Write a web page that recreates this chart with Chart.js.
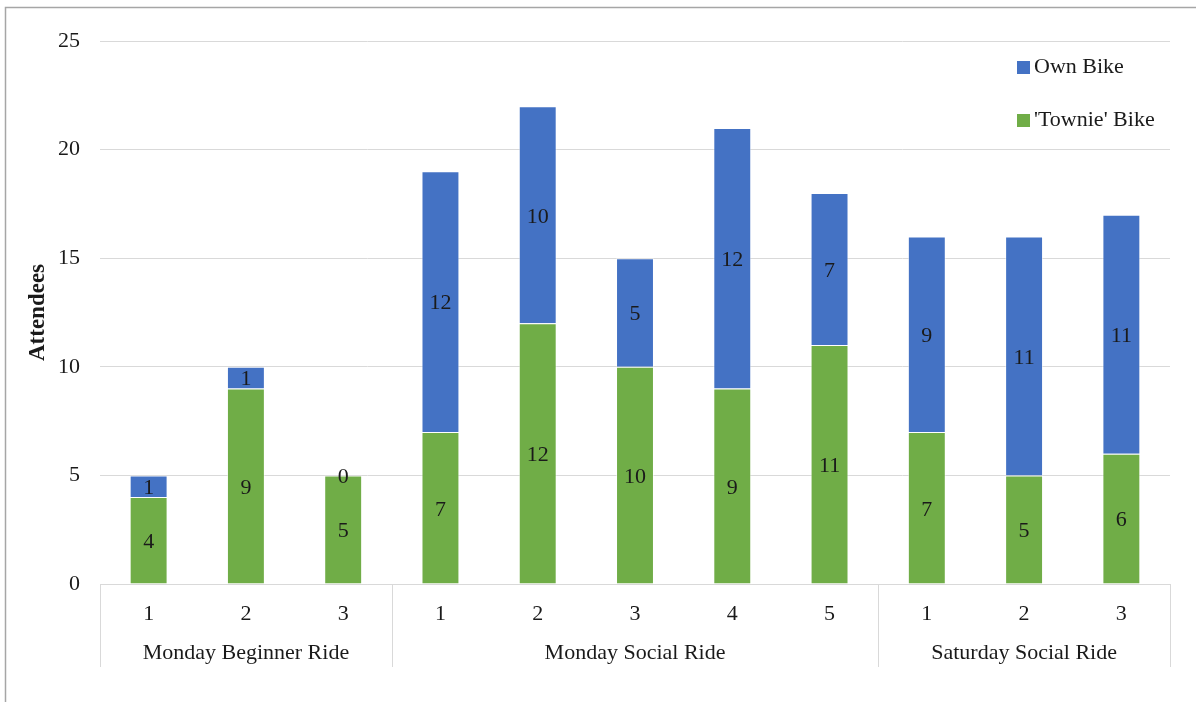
<!DOCTYPE html>
<html>
<head>
<meta charset="utf-8">
<script src="https://cdn.jsdelivr.net/npm/chart.js@4.4.1/dist/chart.umd.min.js"></script>
<style>
  html, body { margin: 0; padding: 0; background: #fff; }
  #wrap { width: 1196px; height: 702px; position: relative; }
</style>
</head>
<body>
<div id="wrap"><canvas id="rides"></canvas></div>
<script>
// ride numbers inside each ride series
const rideLabels = ['1', '2', '3', '1', '2', '3', '4', '5', '1', '2', '3'];
// ride series and how many rides each one covers
const groupNames = ['Monday Beginner Ride', 'Monday Social Ride', 'Saturday Social Ride'];
const groupSizes = [3, 5, 3];
// attendees per ride
const townieBike = [4, 9, 5, 7, 12, 10, 9, 11, 7, 5, 6];
const ownBike = [1, 1, 0, 12, 10, 5, 12, 7, 9, 11, 11];
const yTicks = [0, 5, 10, 15, 20, 25];

const BLUE = '#4472C4';
const GREEN = '#70AD47';
const GRID = '#d9d9d9';
const TEXT = '#1a1a1a';
const SERIF = "'Liberation Serif', 'Times New Roman', serif";
const FONT_PX = 22;

Chart.defaults.font.family = SERIF;
Chart.defaults.font.size = FONT_PX;
Chart.defaults.color = TEXT;

// thin frame on the left and top edge
const framePlugin = {
  id: 'frame',
  beforeDraw(chart) {
    const ctx = chart.ctx;
    ctx.save();
    ctx.strokeStyle = '#a6a6a6';
    ctx.lineWidth = 1.5;
    ctx.beginPath();
    ctx.moveTo(5.5, chart.height);
    ctx.lineTo(5.5, 7.5);
    ctx.lineTo(chart.width, 7.5);
    ctx.stroke();
    ctx.restore();
  }
};

// value written in the middle of every segment
const segmentLabels = {
  id: 'segmentLabels',
  afterDatasetsDraw(chart) {
    const ctx = chart.ctx;
    ctx.save();
    ctx.font = FONT_PX + 'px ' + SERIF;
    ctx.fillStyle = TEXT;
    ctx.textAlign = 'center';
    ctx.textBaseline = 'middle';
    chart.data.datasets.forEach((ds, di) => {
      chart.getDatasetMeta(di).data.forEach((bar, i) => {
        const mid = (bar.y + bar.base) / 2;
        ctx.fillText(String(ds.data[i]), bar.x, mid + 2);
      });
    });
    ctx.restore();
  }
};

// second row of the category axis: series names and dividers
const groupAxis = {
  id: 'groupAxis',
  afterDraw(chart) {
    const x = chart.scales.x;
    const ctx = chart.ctx;
    const half = (x.getPixelForValue(1) - x.getPixelForValue(0)) / 2;
    const top = chart.chartArea.bottom;
    const bottom = top + 83;
    ctx.save();
    ctx.strokeStyle = GRID;
    ctx.lineWidth = 1;
    ctx.font = FONT_PX + 'px ' + SERIF;
    ctx.fillStyle = TEXT;
    ctx.textAlign = 'center';
    ctx.textBaseline = 'middle';
    let start = 0;
    const edges = [x.getPixelForValue(0) - half];
    groupSizes.forEach((n, g) => {
      const left = x.getPixelForValue(start) - half;
      const right = x.getPixelForValue(start + n - 1) + half;
      ctx.fillText(groupNames[g], (left + right) / 2, top + 69);
      edges.push(right);
      start += n;
    });
    edges.forEach(px => {
      const e = Math.round(px) + 0.5;
      ctx.beginPath();
      ctx.moveTo(e, top);
      ctx.lineTo(e, bottom);
      ctx.stroke();
    });
    ctx.restore();
  }
};

// legend sitting inside the plot, top right
const cornerLegend = {
  id: 'cornerLegend',
  afterDraw(chart) {
    const ctx = chart.ctx;
    const items = chart.data.datasets.slice().reverse();
    ctx.save();
    ctx.font = FONT_PX + 'px ' + SERIF;
    ctx.textAlign = 'left';
    ctx.textBaseline = 'middle';
    items.forEach((ds, k) => {
      const cy = 67 + k * 53;
      ctx.fillStyle = ds.backgroundColor;
      ctx.fillRect(1017, cy - 6, 13, 13);
      ctx.fillStyle = TEXT;
      ctx.fillText(ds.label, 1034, cy);
    });
    ctx.restore();
  }
};

new Chart(document.getElementById('rides'), {
  type: 'bar',
  data: {
    labels: rideLabels,
    datasets: [
      {
        label: "'Townie' Bike",
        data: townieBike,
        backgroundColor: GREEN,
        borderColor: 'rgba(255,255,255,0.5)',
        borderWidth: 1,
        categoryPercentage: 1,
        barPercentage: 0.39
      },
      {
        label: 'Own Bike',
        data: ownBike,
        backgroundColor: BLUE,
        borderColor: 'rgba(255,255,255,0.5)',
        borderWidth: 1,
        categoryPercentage: 1,
        barPercentage: 0.39
      }
    ]
  },
  options: {
    responsive: true,
    maintainAspectRatio: false,
    animation: false,
    layout: { padding: { top: 41, right: 26, bottom: 0, left: 0 } },
    plugins: {
      legend: { display: false },
      tooltip: { enabled: false }
    },
    scales: {
      x: {
        stacked: true,
        grid: { display: false },
        border: { display: true, color: GRID, width: 1 },
        ticks: { padding: 9, maxRotation: 0, autoSkip: false },
        afterFit(scale) { scale.height = 118; }
      },
      y: {
        stacked: true,
        min: 0,
        max: 25,
        afterBuildTicks(scale) { scale.ticks = yTicks.map(v => ({ value: v })); },
        grid: { color: GRID, lineWidth: 1, drawTicks: false },
        border: { display: false },
        ticks: { padding: 20 },
        title: {
          display: true,
          text: 'Attendees',
          font: { size: 23, weight: 'bold' },
          padding: { top: 24, bottom: 0 }
        },
        afterFit(scale) { scale.width = 100; }
      }
    }
  },
  plugins: [framePlugin, segmentLabels, groupAxis, cornerLegend]
});
</script>
</body>
</html>
